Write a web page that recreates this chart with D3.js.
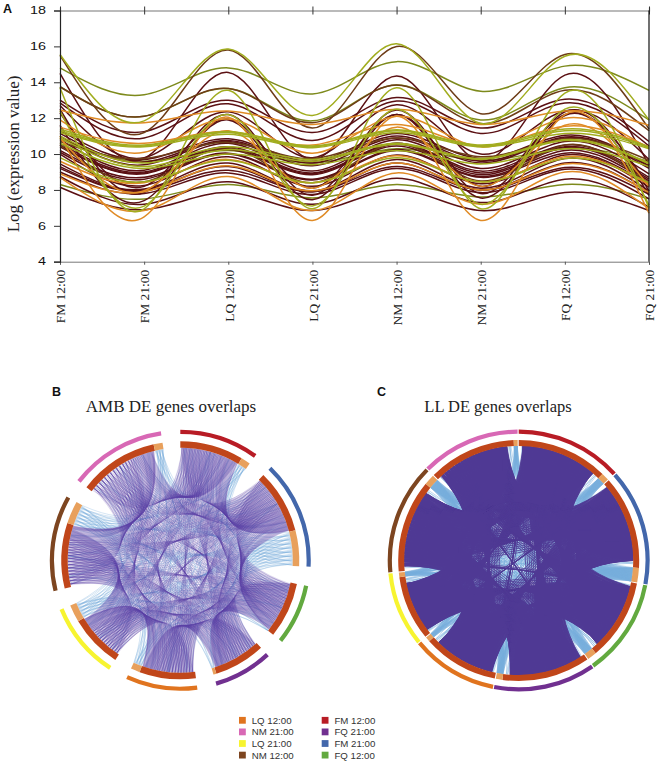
<!DOCTYPE html>
<html lang="en">
<head>
<meta charset="utf-8">
<title>DE genes</title>
<script src="https://d3js.org/d3.v7.min.js"></script>
<style>
body { margin: 0; background: #fff; }
svg { display: block; }
</style>
</head>
<body>
<div id="chart"></div>
<script>
// panel A
var timepoints = ["FM 12:00", "FM 21:00", "LQ 12:00", "LQ 21:00", "NM 12:00", "NM 21:00", "FQ 12:00", "FQ 21:00"];
var yTicks = [4, 6, 8, 10, 12, 14, 16, 18];

var maroonGenes = [
    [14.5, 9.75, 14.55, 9.7, 14.35, 9.6, 14.4, 9.4],
    [13.0, 11.25, 13.0, 11.2, 13.15, 11.45, 13.05, 10.7],
    [12.85, 10.9, 12.8, 10.75, 12.95, 11.15, 12.85, 10.45],
    [12.7, 9.8, 12.35, 9.8, 12.75, 10.0, 12.4, 9.7],
    [12.5, 7.85, 12.2, 7.7, 12.45, 7.8, 12.35, 7.95],
    [12.3, 8.2, 11.95, 8.1, 12.2, 8.2, 12.2, 8.2],
    [11.6, 7.4, 11.9, 7.45, 12.2, 7.55, 12.15, 7.7],
    [11.3, 9.7, 10.85, 9.6, 11.15, 9.75, 11.05, 9.35],
    [11.15, 9.55, 10.75, 9.5, 11.0, 9.6, 10.95, 9.3],
    [11.0, 9.4, 10.7, 9.35, 10.9, 9.5, 10.9, 9.2],
    [10.8, 9.1, 10.6, 9.05, 10.8, 9.2, 10.7, 8.9],
    [10.6, 9.0, 10.4, 8.95, 10.6, 9.05, 10.5, 8.7],
    [10.5, 8.9, 10.3, 8.9, 10.55, 8.95, 10.4, 8.6],
    [10.4, 8.95, 10.25, 8.85, 10.45, 8.85, 10.35, 8.5],
    [10.2, 8.7, 10.05, 8.6, 10.25, 8.75, 10.2, 8.4],
    [10.1, 8.6, 10.0, 8.55, 10.2, 8.7, 10.05, 8.3],
    [10.0, 8.25, 9.85, 8.2, 9.95, 8.35, 9.95, 8.15],
    [9.45, 8.05, 9.5, 7.95, 9.7, 8.1, 9.75, 7.95],
    [9.3, 8.0, 9.3, 7.9, 9.5, 8.0, 9.5, 7.85],
    [9.2, 7.95, 9.1, 7.9, 9.3, 8.0, 9.25, 7.75],
    [9.0, 7.8, 8.95, 7.75, 9.2, 7.85, 9.15, 7.5],
    [8.75, 7.2, 8.45, 7.2, 8.65, 7.3, 8.6, 7.05],
    [8.15, 6.9, 7.85, 6.85, 8.0, 6.85, 7.85, 6.85]
];
var brownGenes = [
    [15.5, 11.2, 15.8, 11.45, 16.0, 12.25, 15.55, 11.4],
    [13.75, 12.1, 13.65, 11.75, 13.85, 11.7, 13.55, 11.3],
    [10.7, 9.75, 10.65, 9.75, 10.9, 9.85, 10.85, 9.65],
    [10.5, 8.45, 10.35, 8.4, 10.6, 8.5, 10.5, 8.3]
];
var oliveGenes = [
    [14.8, 13.3, 14.8, 13.35, 15.15, 13.5, 14.9, 13.55],
    [13.75, 12.1, 13.65, 11.85, 13.85, 11.9, 13.7, 11.9],
    [10.85, 9.6, 10.2, 9.5, 10.3, 9.65, 10.3, 9.6],
    [8.3, 7.5, 8.3, 7.55, 8.3, 7.6, 8.3, 7.5]
];
var yellowGreenGenes = [
    [15.55, 11.85, 15.85, 12.15, 16.15, 11.7, 15.45, 11.9],
    [13.7, 6.95, 13.55, 6.95, 13.7, 6.95, 13.4, 7.0],
    [12.4, 7.1, 12.2, 7.1, 12.5, 7.2, 12.5, 7.15],
    [11.4, 10.5, 11.25, 10.45, 11.35, 10.5, 11.4, 10.4],
    [11.3, 10.45, 11.2, 10.4, 11.3, 10.45, 11.3, 10.35],
    [11.2, 10.4, 11.1, 10.35, 11.2, 10.4, 11.15, 10.3],
    [11.0, 9.5, 10.4, 9.7, 10.6, 9.75, 10.8, 9.5],
    [10.9, 9.3, 10.25, 9.6, 10.55, 9.7, 10.75, 9.45],
    [10.6, 9.2, 10.0, 9.4, 10.2, 9.45, 10.3, 9.3],
    [9.8, 8.45, 9.65, 8.4, 9.8, 8.45, 9.75, 8.4]
];
var orangeGenes = [
    [12.45, 11.75, 12.4, 11.65, 12.5, 11.65, 12.4, 11.6],
    [11.5, 10.6, 11.25, 10.5, 11.65, 10.45, 11.55, 10.4],
    [11.9, 10.1, 11.95, 10.05, 12.1, 10.4, 12.0, 10.3],
    [11.0, 6.5, 12.05, 6.3, 12.1, 6.3, 12.2, 6.7],
    [10.9, 7.95, 11.3, 8.1, 11.5, 8.2, 11.6, 8.2],
    [9.6, 8.4, 9.7, 8.4, 9.9, 8.45, 9.85, 8.3],
    [8.9, 7.9, 9.35, 7.95, 9.5, 8.0, 9.45, 7.85],
    [8.7, 6.85, 8.75, 6.85, 8.95, 7.2, 9.0, 6.95]
];
var geneColors = ["#7d8a1c", "#5b1013", "#6d3c17", "#e08b26", "#a1ad1f"];

// panels B and C, sectors clockwise from the top
var sectorNames = ["FM 12:00", "FM 21:00", "FQ 12:00", "FQ 21:00", "LQ 12:00", "LQ 21:00", "NM 12:00", "NM 21:00"];
var sectorColors = ["#b81c25", "#4367ab", "#62a93f", "#713090", "#e0741f", "#f7f430", "#7d4520", "#d868b5"];

var ambDark = [310, 310, 272, 250, 275, 260, 320, 390];
var ambLight = [46, 175, 0, 15, 45, 85, 110, 44];
var llDark = [443, 455, 395, 428, 367, 315, 450, 427];
var llLight = [38, 70, 45, 32, 23, 22, 52, 19];

// shared genes between sector pairs (row i, column j, j > i)
var ambPairs = [
    [64, 36, 28, 18, 26, 32, 60],
    [60, 38, 26, 20, 32, 42],
    [54, 32, 26, 18, 26],
    [54, 32, 26, 22],
    [60, 34, 28],
    [54, 32],
    [68]
];
var llPairs = [
    [125, 92, 56, 9, 54, 88, 130],
    [130, 92, 54, 8, 54, 90],
    [118, 86, 54, 8, 52],
    [124, 88, 54, 8],
    [115, 80, 54],
    [108, 78],
    [130]
];
// genes per partner sector coming out of the pale part of each sector
var ambLightLinks = [3, 8, 1, 1, 3, 5, 6, 3];
var llLightLinks = [9, 14, 10, 8, 6, 6, 12, 5];

var svg = d3.select("#chart").append("svg")
    .attr("width", 657)
    .attr("height", 762);

// ---------- panel A
var x = d3.scalePoint().domain(timepoints).range([60, 649]);
var y = d3.scaleLinear().domain([4, 18]).range([261.7, 10.5]);
var line = d3.line()
    .x(function (d, i) { return x(timepoints[i]); })
    .y(function (d) { return y(d); })
    .curve(d3.curveNatural);

var geneGroups = [oliveGenes, maroonGenes, brownGenes, orangeGenes, yellowGreenGenes];
geneGroups.forEach(function (genes, i) {
    svg.append("g").selectAll("path")
        .data(genes)
        .enter().append("path")
        .attr("d", line)
        .attr("fill", "none")
        .attr("stroke", geneColors[i])
        .attr("stroke-width", 1.5);
});

var topAxis = svg.append("g")
    .attr("transform", "translate(0,10.5)")
    .call(d3.axisTop(x).tickSize(3).tickFormat(""));
topAxis.selectAll("line").attr("y1", 4).attr("y2", -4).attr("stroke", "#333");
topAxis.select(".domain").attr("stroke", "#777").attr("stroke-width", 1.2);

var bottomAxis = svg.append("g")
    .attr("transform", "translate(0,261.7)")
    .call(d3.axisBottom(x).tickSize(3));
bottomAxis.select(".domain").attr("stroke", "#777").attr("stroke-width", 1);
bottomAxis.selectAll("line").attr("stroke", "#555");
bottomAxis.selectAll("text")
    .attr("transform", "rotate(-90)")
    .attr("x", -8)
    .attr("y", 0)
    .attr("dy", "0.35em")
    .attr("text-anchor", "end")
    .attr("font-family", "Liberation Serif")
    .attr("font-size", 13.5)
    .attr("fill", "#222");

var leftAxis = svg.append("g")
    .attr("transform", "translate(60,0)")
    .call(d3.axisLeft(y).tickValues(yTicks).tickSize(6).tickFormat(d3.format("d")));
leftAxis.select(".domain").attr("stroke", "#222").attr("stroke-width", 1.2);
leftAxis.selectAll("line").attr("stroke", "#333");
leftAxis.selectAll("text")
    .attr("x", -14)
    .attr("font-family", "Liberation Sans")
    .attr("font-size", 10)
    .attr("textLength", function (d) { return d < 10 ? 8 : 16; })
    .attr("lengthAdjust", "spacingAndGlyphs")
    .attr("fill", "#111");

svg.append("line")
    .attr("x1", 649).attr("x2", 649)
    .attr("y1", 10.5).attr("y2", 261.7)
    .attr("stroke", "#111").attr("stroke-width", 1.2);

svg.append("text")
    .attr("transform", "translate(19,154) rotate(-90)")
    .attr("text-anchor", "middle")
    .attr("font-family", "Liberation Serif")
    .attr("font-size", 17)
    .attr("fill", "#222")
    .text("Log (expression value)");

// ---------- panels B and C
function pairCount(pairs, i, j) {
    return i < j ? pairs[i][j - i - 1] : pairs[j][i - j - 1];
}

function drawCircos(cfg) {
    var g = svg.append("g").attr("transform", "translate(" + cfg.cx + "," + cfg.cy + ")");
    var n = sectorNames.length;
    var totals = cfg.dark.map(function (d, i) { return d + cfg.light[i]; });
    var pad = cfg.gap * Math.PI / 180;
    var slices = d3.pie().sort(null).padAngle(pad)
        .startAngle(-pad / 2).endAngle(2 * Math.PI - pad / 2)(totals);

    var sectors = slices.map(function (s, i) {
        var a0 = s.startAngle + pad / 2, a1 = s.endAngle - pad / 2;
        var split = d3.scaleLinear().domain([0, totals[i]]).range([a0, a1])(cfg.dark[i]);
        return { a0: a0, a1: a1, split: split };
    });

    // hand out the slots on each dark bar to partners in turn
    var mStart = cfg.margin[0] * Math.PI / 180, mEnd = cfg.margin[1] * Math.PI / 180;
    var slots = sectors.map(function (s, i) {
        var left = sectors.map(function (o, j) { return j === i ? 0 : pairCount(cfg.pairs, i, j); });
        var order = [];
        while (d3.sum(left) > 0) {
            for (var j = 0; j < n; j++) {
                if (left[j] > 0) { order.push(j); left[j]--; }
            }
        }
        var pos = {};
        var from = s.a0 + mStart, to = s.split - mEnd;
        order.forEach(function (j, k) {
            (pos[j] = pos[j] || []).push(from + (k + 0.5) / order.length * (to - from));
        });
        return pos;
    });

    // control point slides to the centre as the two ends get opposite
    function linkPath(ctx, a, b) {
        var mid = (a + b) / 2;
        if (Math.abs(a - b) > Math.PI) mid += Math.PI;
        var c = cfg.control * cfg.linkR * Math.abs(Math.cos((a - b) / 2));
        ctx.moveTo(cfg.linkR * Math.sin(a), -cfg.linkR * Math.cos(a));
        ctx.quadraticCurveTo(c * Math.sin(mid), -c * Math.cos(mid), cfg.linkR * Math.sin(b), -cfg.linkR * Math.cos(b));
    }

    var blue = d3.path();
    sectors.forEach(function (s, i) {
        var count = cfg.lightLinks[i];
        if (!count) return;
        var total = count * (n - 1), k = 0;
        for (var step = 0; step < count; step++) {
            sectors.forEach(function (t, j) {
                if (j === i) return;
                var a = s.split + (k + 0.5) / total * (s.a1 - s.split);
                var b = t.a0 + (step + 0.5) / count * (t.split - t.a0);
                linkPath(blue, a, b);
                k++;
            });
        }
    });
    g.append("path")
        .attr("d", blue.toString())
        .attr("fill", "none")
        .attr("stroke", cfg.blue)
        .attr("stroke-width", cfg.blueWidth)
        .attr("stroke-opacity", cfg.blueOpacity);

    // distant pairs: every few genes run end to end so the middle fills in
    var purple = d3.path();
    for (var i = 0; i < n; i++) {
        for (var j = i + 1; j < n; j++) {
            var step = Math.min(j - i, n - (j - i));
            var ends = slots[j][i] || [];
            (slots[i][j] || []).forEach(function (a, k) {
                var flip = step >= 2 && k % cfg.flipEvery === 0;
                linkPath(purple, a, flip ? ends[ends.length - 1 - k] : ends[k]);
            });
        }
    }
    g.append("path")
        .attr("d", purple.toString())
        .attr("fill", "none")
        .attr("stroke", cfg.purple)
        .attr("stroke-width", cfg.purpleWidth)
        .attr("stroke-opacity", cfg.purpleOpacity);

    var bar = d3.arc().innerRadius(cfg.barR[0]).outerRadius(cfg.barR[1]);
    var ring = d3.arc().innerRadius(cfg.ringR[0]).outerRadius(cfg.ringR[1]);
    g.selectAll(".dark").data(sectors).enter().append("path")
        .attr("d", function (s) { return bar({ startAngle: s.a0, endAngle: s.split }); })
        .attr("fill", "#c0461a");
    g.selectAll(".pale").data(sectors).enter().append("path")
        .attr("d", function (s) { return bar({ startAngle: s.split, endAngle: s.a1 }); })
        .attr("fill", "#e8a05c");
    g.selectAll(".ring").data(sectors).enter().append("path")
        .attr("d", function (s) { return ring({ startAngle: s.a0, endAngle: s.a1 }); })
        .attr("fill", function (s, i) { return sectorColors[i]; });

    svg.append("text")
        .attr("x", cfg.titleX).attr("y", 412)
        .attr("text-anchor", "middle")
        .attr("font-family", "Liberation Serif")
        .attr("font-size", cfg.titleSize)
        .attr("fill", "#222")
        .text(cfg.title);
}

drawCircos({
    cx: 180.3, cy: 560.3, gap: 8.6, title: "AMB DE genes overlaps", titleX: 171, titleSize: 17,
    dark: ambDark, light: ambLight, pairs: ambPairs, lightLinks: ambLightLinks,
    linkR: 112.5, control: 0.22, margin: [0.5, 0.5], flipEvery: 2, barR: [112.5, 119], ringR: [126.3, 130.5],
    purple: "#5a3ea6", purpleWidth: 0.35, purpleOpacity: 0.55,
    blue: "#6aa6d6", blueWidth: 0.4, blueOpacity: 0.7
});
drawCircos({
    cx: 518.7, cy: 560.5, gap: 0.5, title: "LL DE genes overlaps", titleX: 498, titleSize: 16.5,
    dark: llDark, light: llLight, pairs: llPairs, lightLinks: llLightLinks,
    linkR: 114.5, control: 0.13, margin: [2, 3.5], flipEvery: 4, barR: [114.5, 120.5], ringR: [126.8, 131],
    purple: "#4f3a94", purpleWidth: 0.8, purpleOpacity: 1,
    blue: "#76aedb", blueWidth: 0.5, blueOpacity: 0.9
});

// ---------- panel letters
var panelLetters = [["A", 3, 13], ["B", 52, 396], ["C", 377, 396]];
svg.selectAll(".letter").data(panelLetters).enter().append("text")
    .attr("x", function (d) { return d[1]; })
    .attr("y", function (d) { return d[2]; })
    .attr("font-family", "Liberation Sans")
    .attr("font-weight", "bold")
    .attr("font-size", 12.5)
    .attr("fill", "#111")
    .text(function (d) { return d[0]; });

// ---------- legend
var legendNames = ["LQ 12:00", "NM 21:00", "LQ 21:00", "NM 12:00", "FM 12:00", "FQ 21:00", "FM 21:00", "FQ 12:00"];
var legend = svg.selectAll(".legend").data(legendNames).enter().append("g")
    .attr("transform", function (d, i) {
        return "translate(" + (i < 4 ? 239 : 321.7) + "," + (720.3 + (i % 4) * 11.6) + ")";
    });
legend.append("rect")
    .attr("x", 0).attr("y", -3.4)
    .attr("width", 6.8).attr("height", 6.8)
    .attr("fill", function (d) { return sectorColors[sectorNames.indexOf(d)]; });
legend.append("text")
    .attr("x", 12.7)
    .attr("dy", "0.35em")
    .attr("font-family", "Liberation Sans")
    .attr("font-size", 9.7)
    .attr("fill", "#333")
    .text(function (d) { return d; });
</script>
</body>
</html>
